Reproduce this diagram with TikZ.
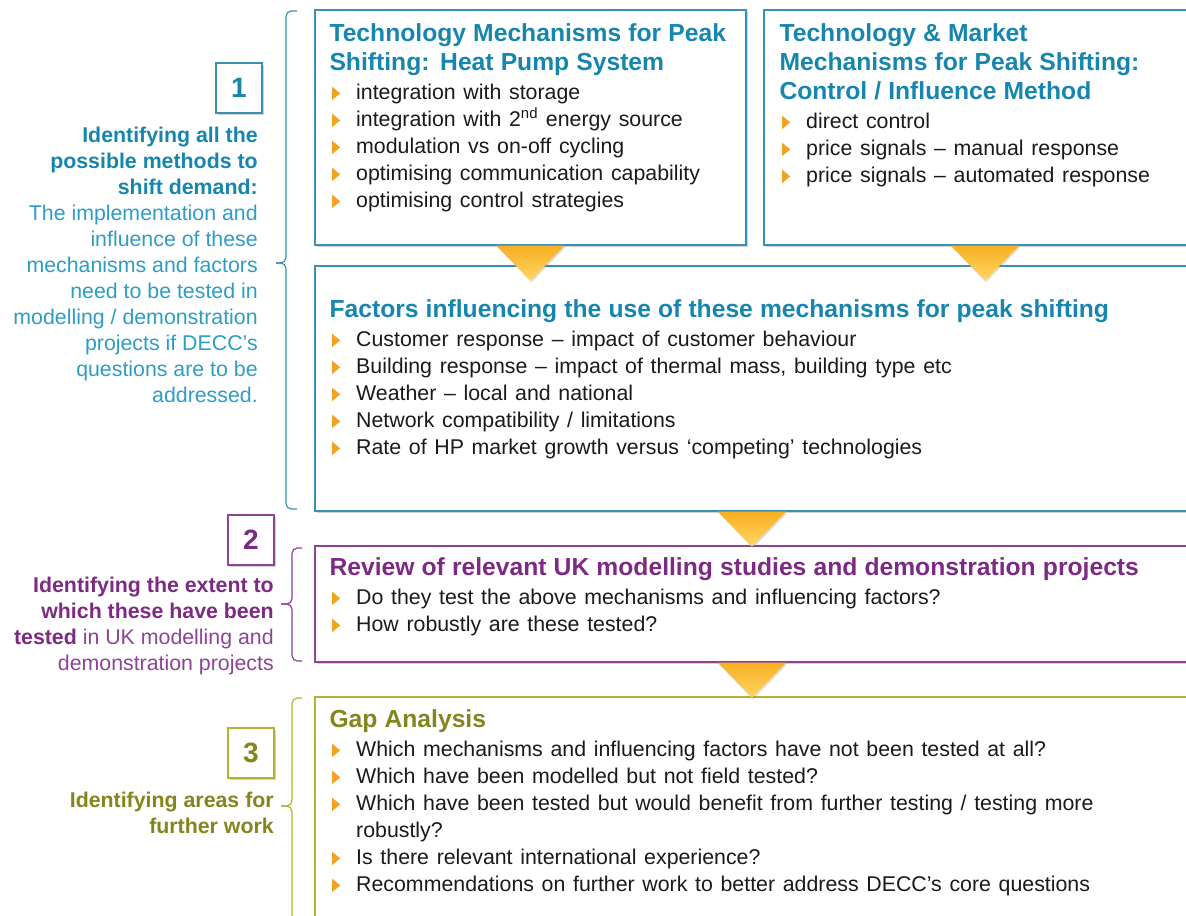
\documentclass[tikz,border=0pt]{standalone}
\usepackage{fontspec}
\setmainfont{Liberation Sans}
\usetikzlibrary{positioning,fit,shadows}

\definecolor{hpteal}{HTML}{3A90B4}
\definecolor{hptealtxt}{HTML}{1786AE}
\definecolor{hpteallt}{HTML}{2E9DC6}
\definecolor{hppurple}{HTML}{8E4396}
\definecolor{hppurpletxt}{HTML}{7D2A85}
\definecolor{hpolive}{HTML}{B1B42C}
\definecolor{hpolivetxt}{HTML}{85851C}
\definecolor{hpgold}{HTML}{F8AF22}
\definecolor{hpgoldlt}{HTML}{FFD665}
\definecolor{hporange}{HTML}{F2A324}
\definecolor{hpblack}{HTML}{1A1A1A}

% bullet and list items
\newcommand{\hpbul}{\tikz[baseline=0pt]\fill[hporange] (0pt,-0.5pt) -- (0pt,9.5pt) -- (6pt,4.5pt) -- cycle;}
\newcommand{\hpitem}[1]{\par\spaceskip=0.36em plus 0.1em\relax
  \hangindent=20pt\hangafter=1\noindent\hspace*{2pt}\makebox[18pt][l]{\hpbul}#1\par}
\newcommand{\hptitle}[2]{{\color{#1}\bfseries\fontsize{18.5}{21.75}\selectfont #2\par}\vspace{1.5pt}}

\tikzset{
  hpshadow/.style={drop shadow={shadow xshift=1.2pt,shadow yshift=-1.8pt,opacity=.35}},
  hpbox/.style={draw=#1, line width=1.1pt, fill=white, inner sep=0pt, hpshadow},
  hptext/.style={align=left, anchor=north west, inner sep=0pt, text=hpblack,
    font=\fontsize{16}{20.25}\selectfont},
  lefttxt/.style={align=right, anchor=north east, inner sep=0pt,
    font=\fontsize{16}{19.5}\selectfont},
  numbox/.style={draw=#1, fill=white, line width=1.1pt, inner sep=0pt,
    minimum width=34.5pt, minimum height=37.5pt, hpshadow,
    font=\bfseries\fontsize{21}{24}\selectfont},
  hpbrace/.style={draw=#1, line width=0.9pt, rounded corners=4pt},
  pics/hpdown/.style={code={
    \shade[top color=hpgold, bottom color=hpgoldlt, drop shadow={shadow xshift=0.8pt,shadow yshift=-1.2pt,opacity=.25}]
      (-34,0) -- (34,0) -- (0,35) -- cycle;}}
}

\begin{document}
\begin{tikzpicture}[x=0.75pt,y=-0.75pt]
\useasboundingbox[fill=white] (0,0) rectangle (1186,916);

% boxes
\node[hpbox=hpteal, fit={(315,10) (746,245)}] (tech) {};
\node[hpbox=hpteal, fit={(764,10) (1206,245)}] (market) {};
\node[hpbox=hpteal, fit={(315,266) (1189,511)}] (factors) {};
\node[hpbox=hppurple, fit={(315,546) (1189,662)}] (review) {};
\node[hpbox=hpolive, fit={(315,697) (1189,930)}] (gap) {};

% arrows
\pic at (tech.south) {hpdown};
\pic at (market.south) {hpdown};
\pic at (factors.south) {hpdown};
\pic at (review.south) {hpdown};

% box texts
\node[hptext, text width=312pt] (techtxt) at ([shift={(15,14)}]tech.north west) {%
  \hptitle{hptealtxt}{Technology Mechanisms for Peak\\Shifting: Heat Pump System}
  \hpitem{integration with storage}
  \hpitem{integration with 2\textsuperscript{nd} energy source}
  \hpitem{modulation vs on-off cycling}
  \hpitem{optimising communication capability}
  \hpitem{optimising control strategies}};
\node[hptext, text width=305pt] (markettxt) at ([shift={(16,14)}]market.north west) {%
  \hptitle{hptealtxt}{Technology \& Market\\Mechanisms for Peak Shifting:\\Control / Influence Method}
  \hpitem{direct control}
  \hpitem{price signals – manual response}
  \hpitem{price signals – automated response}};
\node[hptext, text width=640pt] (factorstxt) at ([shift={(15,34)}]factors.north west) {%
  \hptitle{hptealtxt}{Factors influencing the use of these mechanisms for peak shifting}
  \hpitem{Customer response – impact of customer behaviour}
  \hpitem{Building response – impact of thermal mass, building type etc}
  \hpitem{Weather – local and national}
  \hpitem{Network compatibility / limitations}
  \hpitem{Rate of HP market growth versus ‘competing’ technologies}};
\node[hptext, text width=640pt] (reviewtxt) at ([shift={(15,12)}]review.north west) {%
  \hptitle{hppurpletxt}{Review of relevant UK modelling studies and demonstration projects}
  \hpitem{Do they test the above mechanisms and influencing factors?}
  \hpitem{How robustly are these tested?}};
\node[hptext, text width=640pt] (gaptxt) at ([shift={(15,13)}]gap.north west) {%
  \hptitle{hpolivetxt}{Gap Analysis}
  \hpitem{Which mechanisms and influencing factors have not been tested at all?}
  \hpitem{Which have been modelled but not field tested?}
  \hpitem{Which have been tested but would benefit from further testing / testing more\newline robustly?}
  \hpitem{Is there relevant international experience?}
  \hpitem{Recommendations on further work to better address DECC’s core questions}};

% step numbers
\node[numbox=hpteal, text=hptealtxt] (num1) at (239,88) {1};
\node[numbox=hppurple, text=hppurpletxt] (num2) at (251,540) {2};
\node[numbox=hpolive, text=hpolivetxt] (num3) at (251,753) {3};

% left labels
\node[lefttxt, text=hpteallt] (lab1) at (258,127) {%
  \textcolor{hptealtxt}{\bfseries Identifying all the}\\
  \textcolor{hptealtxt}{\bfseries possible methods to}\\
  \textcolor{hptealtxt}{\bfseries shift demand:}\\
  The implementation and\\
  influence of these\\
  mechanisms and factors\\
  need to be tested in\\
  modelling / demonstration\\
  projects if DECC’s\\
  questions are to be\\
  addressed.};
\node[lefttxt, text=hppurple] (lab2) at (274,577) {%
  \textcolor{hppurpletxt}{\bfseries Identifying the extent to}\\
  \textcolor{hppurpletxt}{\bfseries which these have been}\\
  \textcolor{hppurpletxt}{\bfseries tested} in UK modelling and\\
  demonstration projects};
\node[lefttxt, text=hpolivetxt, font=\bfseries\fontsize{16}{19.5}\selectfont] (lab3) at (274,792) {%
  Identifying areas for\\
  further work};

% braces
\draw[hpbrace=hpteal] (297,11) -- (286,11) -- (286,263) -- (276,263);
\draw[hpbrace=hpteal] (276,263) -- (286,263) -- (286,509) -- (297,509);
\draw[hpbrace=hppurple] (302,548) -- (292,548) -- (292,604) -- (281,604);
\draw[hpbrace=hppurple] (281,604) -- (292,604) -- (292,661) -- (302,661);
\draw[hpbrace=hpolive] (302,698) -- (292,698) -- (292,806) -- (281,806);
\draw[hpbrace=hpolive] (281,806) -- (292,806) -- (292,930);
\end{tikzpicture}
\end{document}
